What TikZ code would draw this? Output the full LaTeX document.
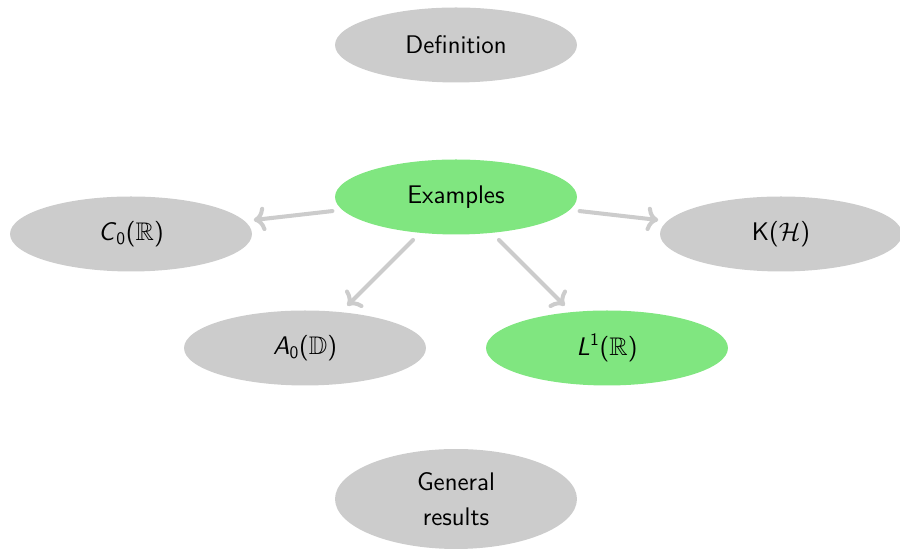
\documentclass[tikz,border=0pt]{standalone}
\usepackage{amsmath,amssymb,amsfonts}
\usepackage{xcolor}
\usepackage{tikz}
\usetikzlibrary{arrows.meta,calc,positioning,shapes.geometric}
\definecolor{TopicGrey}{RGB}{204,204,204}
\definecolor{TopicGreen}{RGB}{128,230,128}
\newcommand{\sfit}[1]{\textsf{\textit{#1}}}
\tikzset{
  topic/.style     ={ellipse, inner sep=0pt, minimum width=4.84cm, minimum height=1.5cm,
                     font=\sffamily\fontsize{14.5}{20}\selectfont, align=center},
  greytopic/.style ={topic, fill=TopicGrey},
  greentopic/.style={topic, fill=TopicGreen},
  link/.style      ={->, draw=TopicGrey, line width=2.3pt, shorten <=5.5pt, shorten >=5pt},
}

\begin{document}
\begin{tikzpicture}[
  x=0.02cm,y=0.02cm,
  line cap=round,
  line join=round
]

% --- Frame ---------------------------------------------------------------
\useasboundingbox (0,0) rectangle (900,550);

% --- Topics --------------------------------------------------------------
\node[greytopic]  (def)  at (456,505) {Definition};
\node[greentopic] (ex)   at (456,353) {Examples};
\node[greytopic]  (czero) at (131,316) {\sfit{C}$_{\mathsf{0}}$($\mathbb{R}$)};
\node[greytopic]  (kh)   at (781,316) {K($\mathcal{H}$)};
\node[greytopic]  (azero) at (305,202) {\sfit{A}$_{\mathsf{0}}$($\mathbb{D}$)};
\node[greentopic] (lone) at (607,202) {\sfit{L}$^{\mathsf{1}}$($\mathbb{R}$)};
\node[greytopic, minimum height=2cm] (gen) at (456,51) {General\\results};

% --- Links out of Examples -----------------------------------------------
\draw[link] (ex) -- (czero);
\draw[link] (ex) -- (kh);
\draw[link] (ex) -- (azero);
\draw[link] (ex) -- (lone);

\end{tikzpicture}
\end{document}
